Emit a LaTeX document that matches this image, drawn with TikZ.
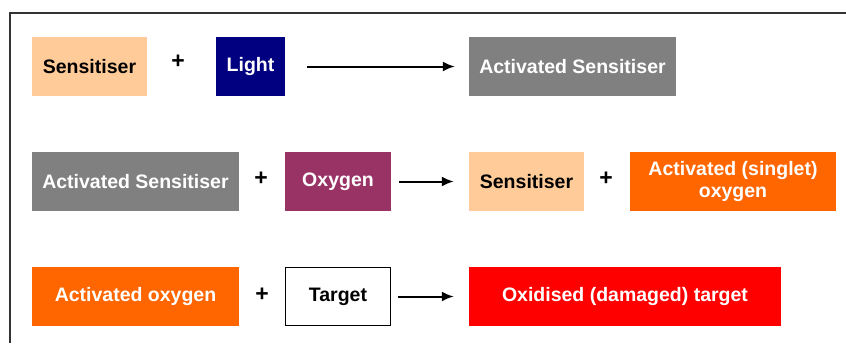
\documentclass[tikz,border=0pt]{standalone}
\usepackage{fontspec}
\setmainfont{Liberation Sans}
\usetikzlibrary{arrows.meta}
\definecolor{peach}{HTML}{FFCC99}
\definecolor{lightblue}{HTML}{000080}
\definecolor{sensgrey}{HTML}{808080}
\definecolor{oxyplum}{HTML}{993366}
\definecolor{singlet}{HTML}{FF6600}
\definecolor{damaged}{HTML}{FF0000}

\begin{document}
\begin{tikzpicture}[x=1pt,y=-1pt]
    \tikzstyle{box}=[inner sep=0pt, minimum height=59pt, align=center,
        font=\fontsize{19.5}{22.2}\selectfont\bfseries]
    \tikzstyle{plus}=[inner sep=0pt, font=\fontsize{23}{26}\selectfont\bfseries]
    \tikzstyle{react}=[-{Latex[length=12pt,width=10pt]}, line width=2pt]
    \useasboundingbox (0,0) rectangle (846,343);
    \draw[line width=2.5pt, black!80] (10,343) -- (10,13) -- (846,13);

    % sensitiser + light
    \node[box, fill=peach, minimum width=115pt] (sens1) at (89.5,66.5) {Sensitiser};
    \node[plus] (plus1) at (178,62) {+};
    \node[box, fill=lightblue, text=white, minimum width=69pt] (light) at (250.5,66.5) {Light};
    \node[box, fill=sensgrey, text=white, minimum width=207pt] (act1) at (572.5,66.5) {Activated Sensitiser};
    \draw[react, shorten <=22pt, shorten >=14pt] (light) -- (act1);

    % activated sensitiser + oxygen
    \node[box, fill=sensgrey, text=white, minimum width=207pt] (act2) at (135.5,181.5) {Activated Sensitiser};
    \node[plus] (plus2) at (261,179) {+};
    \node[box, fill=oxyplum, text=white, minimum width=106pt] (oxy) at (338,181.5) {Oxygen};
    \node[box, fill=peach, minimum width=115pt] (sens2) at (526.5,181.5) {Sensitiser};
    \node[plus] (plus3) at (606,179) {+};
    \node[box, fill=singlet, text=white, minimum width=206pt] (singox) at (733,181.5) {Activated (singlet)\\oxygen};
    \draw[react, shorten <=8pt, shorten >=15pt] (oxy) -- (sens2);

    % activated oxygen + target
    \node[box, fill=singlet, text=white, minimum width=207pt] (actox) at (135.5,296.5) {Activated oxygen};
    \node[plus] (plus4) at (262,295) {+};
    \node[box, draw, line width=1.5pt, minimum width=105pt, minimum height=58pt] (target) at (338,296.5) {Target};
    \node[box, fill=damaged, text=white, minimum width=312pt] (oxid) at (625,296.5) {Oxidised (damaged) target};
    \draw[react, shorten <=7pt, shorten >=15pt] (target) -- (oxid);
\end{tikzpicture}
\end{document}
